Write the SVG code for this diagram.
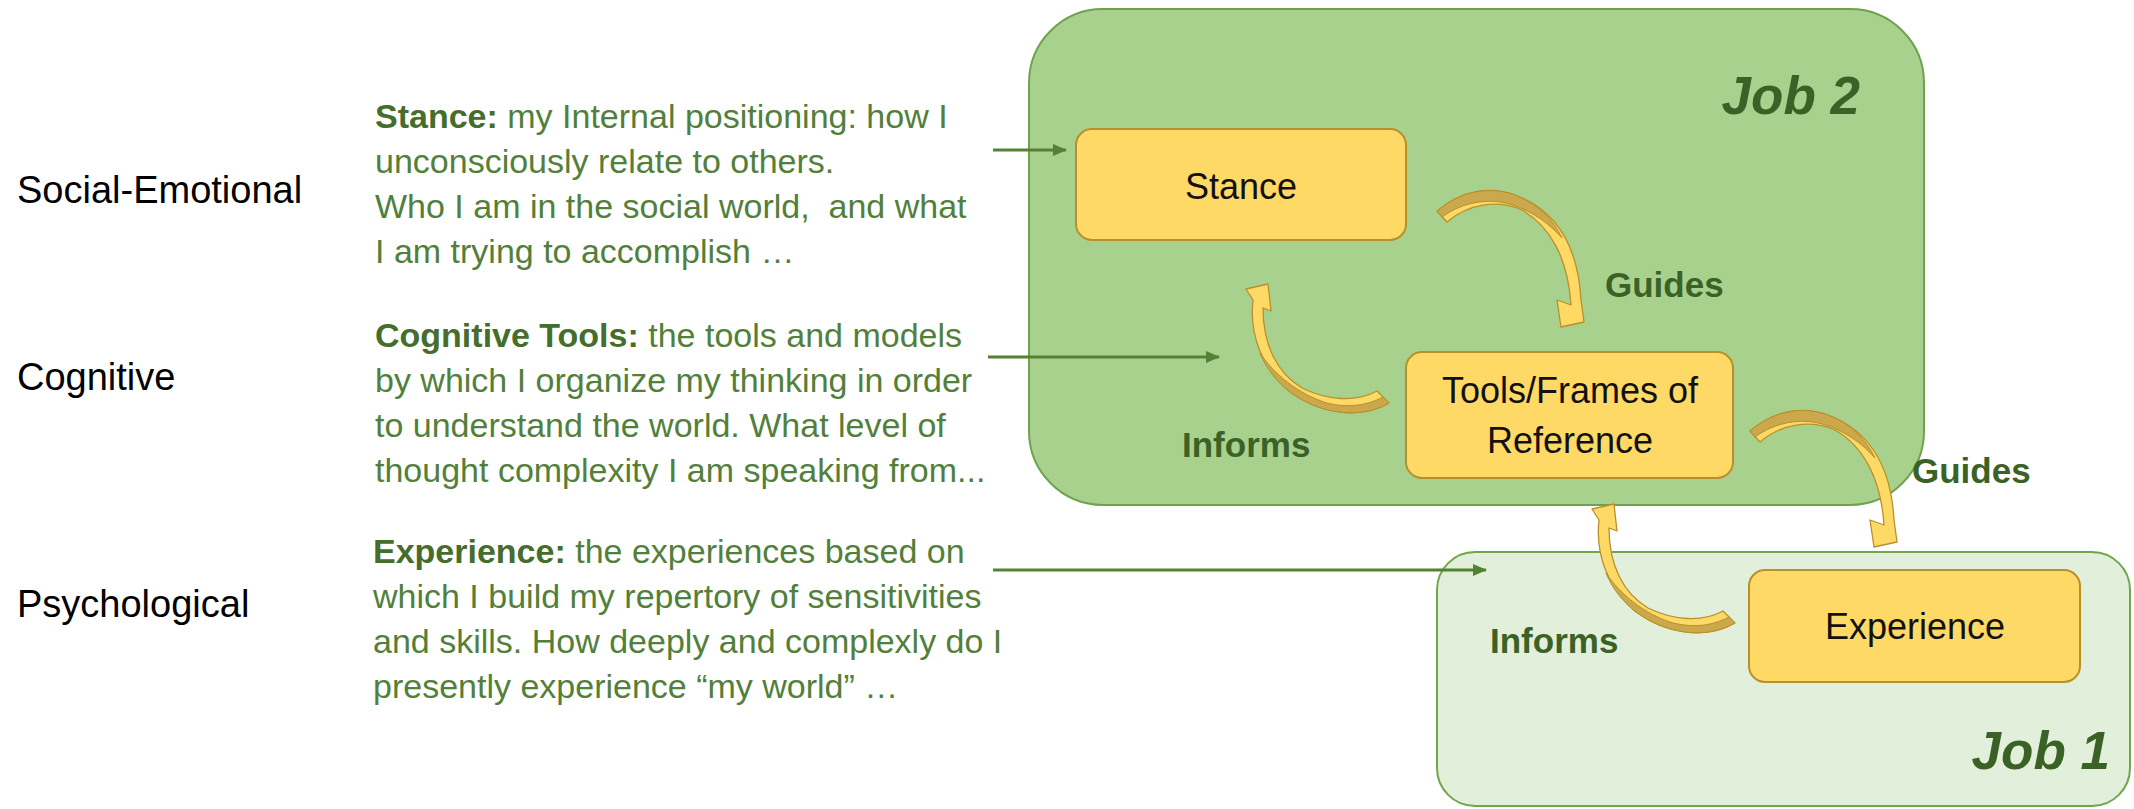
<svg xmlns="http://www.w3.org/2000/svg" xmlns:xlink="http://www.w3.org/1999/xlink" width="2134" height="809" viewBox="0 0 2134 809">
  <style>
    .lvl { font-family: "Liberation Sans", Arial, sans-serif; font-size: 38px; fill: #000; }
    .desc { font-family: "Liberation Sans", Arial, sans-serif; font-size: 34px; fill: #52803A; }
    .desc .b { font-weight: bold; fill: #456d2c; }
    .node rect { fill: #FFD966; stroke: #B8902A; stroke-width: 2; }
    .node text { font-family: "Liberation Sans", Arial, sans-serif; font-size: 36px; fill: #111; text-anchor: middle; }
    .lbl { font-family: "Liberation Sans", Arial, sans-serif; font-size: 35px; font-weight: bold; fill: #3B6226; }
    .job { font-family: "Liberation Sans", Arial, sans-serif; font-size: 53px; font-weight: bold; font-style: italic; fill: #3B6226; text-anchor: end; }
    .feed { stroke: #548235; stroke-width: 3; fill: none; }
    .band { fill: #FFD966; stroke: #B8902A; stroke-width: 1.3; stroke-linejoin: round; }
    .shade { fill: #CBA84C; stroke: #B8902A; stroke-width: 1; }
  </style>
  <defs>
    <marker id="tip" markerUnits="userSpaceOnUse" markerWidth="14" markerHeight="12" refX="13" refY="6" orient="auto">
      <path d="M0,0 L14,6 L0,12 z" fill="#548235"/>
    </marker>
    <!-- curved arrow sweeping clockwise from upper left down to lower right -->
    <g id="arcGuide">
      <path class="band" d="M1437,211 C1462,190 1490,186 1515,195 C1555,210 1578,245 1581,300 L1584,322 L1561,327 L1557,300 L1571,305 C1568,258 1550,226 1522,210 C1497,199 1468,204 1447,222 Z"/>
      <path class="shade" d="M1437,211 C1462,190 1490,186 1515,195 C1538,204 1553,219 1562,238 C1546,220 1524,206 1500,202 C1478,199 1457,206 1442,217 Z"/>
    </g>
    <!-- curved arrow sweeping from lower right round to the upper left -->
    <g id="arcInform">
      <path class="band" d="M1377,391 C1355,403 1327,400 1302,388 C1277,373 1263,345 1263,308 L1271,311 L1268,284 L1246,289 L1253,300 C1249,335 1263,370 1290,392 C1320,414 1360,420 1389,403 Z"/>
      <path class="shade" d="M1389,403 C1360,420 1320,414 1290,392 C1276,381 1266,368 1260,353 C1274,374 1298,394 1327,403 C1351,409 1370,404 1383,397 Z"/>
    </g>
  </defs>

  <rect width="2134" height="809" fill="#fff"/>

  <!-- level names -->
  <g id="levels">
    <text class="lvl" x="17" y="203">Social-Emotional</text>
    <text class="lvl" x="17" y="390">Cognitive</text>
    <text class="lvl" x="17" y="617">Psychological</text>
  </g>

  <!-- descriptions -->
  <g id="desc-stance" class="desc">
    <text x="375" y="128"><tspan class="b">Stance:</tspan> my Internal positioning: how I</text>
    <text x="375" y="173">unconsciously relate to others.</text>
    <text x="375" y="218">Who I am in the social world,&#160; and what</text>
    <text x="375" y="263">I am trying to accomplish …</text>
  </g>
  <g id="desc-tools" class="desc">
    <text x="375" y="347"><tspan class="b">Cognitive Tools:</tspan> the tools and models</text>
    <text x="375" y="392">by which I organize my thinking in order</text>
    <text x="375" y="437">to understand the world. What level of</text>
    <text x="375" y="482">thought complexity I am speaking from...</text>
  </g>
  <g id="desc-experience" class="desc">
    <text x="373" y="563"><tspan class="b">Experience:</tspan> the experiences based on</text>
    <text x="373" y="608">which I build my repertory of sensitivities</text>
    <text x="373" y="653">and skills. How deeply and complexly do I</text>
    <text x="373" y="698">presently experience “my world” …</text>
  </g>

  <!-- containers -->
  <g id="job2">
    <rect x="1029" y="9" width="895" height="496" rx="74" fill="#A9D18E" stroke="#6FA24E" stroke-width="2"/>
    <text class="job" x="1860" y="114">Job 2</text>
  </g>
  <g id="job1">
    <rect x="1437" y="552" width="693" height="254" rx="38" fill="#E2EFDA" stroke="#70A74B" stroke-width="2"/>
    <text class="job" x="2110" y="769">Job 1</text>
  </g>

  <!-- nodes -->
  <g id="stance" class="node">
    <rect x="1076" y="129" width="330" height="111" rx="16"/>
    <text x="1241" y="199">Stance</text>
  </g>
  <g id="tools" class="node">
    <rect x="1406" y="352" width="327" height="126" rx="16"/>
    <text x="1570" y="403">Tools/Frames of</text>
    <text x="1570" y="453">Reference</text>
  </g>
  <g id="experience" class="node">
    <rect x="1749" y="570" width="331" height="112" rx="16"/>
    <text x="1915" y="639">Experience</text>
  </g>

  <!-- connectors -->
  <g id="connectors">
    <line class="feed" x1="993" y1="150" x2="1066" y2="150" marker-end="url(#tip)"/>
    <line class="feed" x1="988" y1="357" x2="1219" y2="357" marker-end="url(#tip)"/>
    <line class="feed" x1="993" y1="570" x2="1486" y2="570" marker-end="url(#tip)"/>
    <use xlink:href="#arcGuide"/>
    <use xlink:href="#arcInform"/>
    <use xlink:href="#arcGuide" transform="translate(313,220)"/>
    <use xlink:href="#arcInform" transform="translate(346,220)"/>
    <text class="lbl" x="1605" y="297">Guides</text>
    <text class="lbl" x="1182" y="457">Informs</text>
    <text class="lbl" x="1912" y="483">Guides</text>
    <text class="lbl" x="1490" y="653">Informs</text>
  </g>
</svg>
